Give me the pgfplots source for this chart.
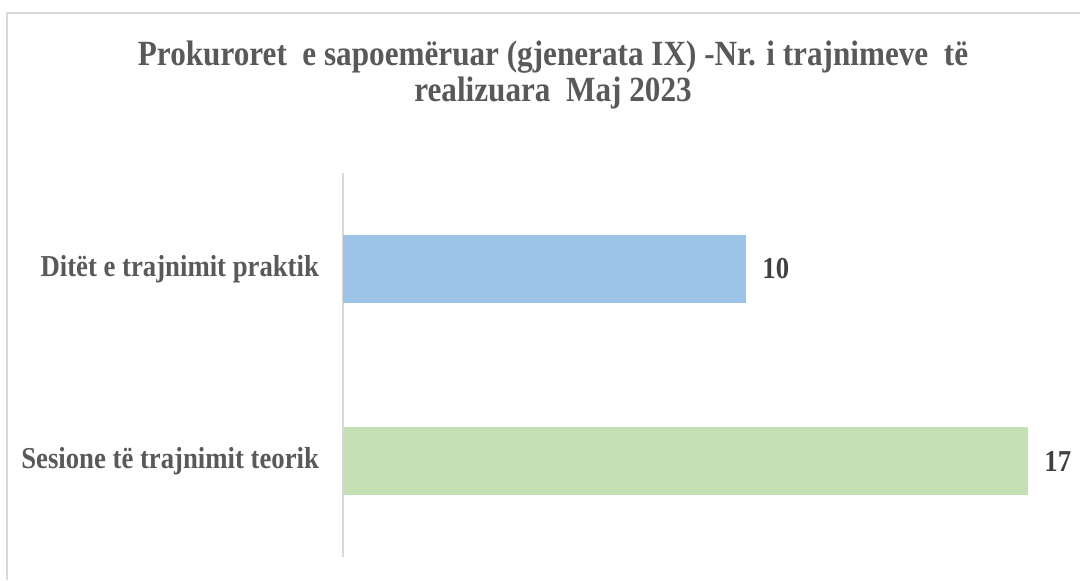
\documentclass[border=0pt]{standalone}
\usepackage{pgfplots}
\pgfplotsset{compat=1.18}
\usepackage{fontspec}
\setmainfont{Liberation Serif}
\newfontfamily\labfont[FakeStretch=0.88]{Liberation Serif}
\definecolor{txtgray}{HTML}{595959}
\definecolor{valgray}{HTML}{404040}
\definecolor{linegray}{HTML}{D9D9D9}
\definecolor{barblue}{HTML}{9DC3E6}
\definecolor{bargreen}{HTML}{C5E0B4}
\begin{document}
\begin{tikzpicture}[x=0.0138889cm,y=0.0138889cm]
\useasboundingbox (0,0) rectangle (1080,580);
\draw[linegray,line width=0.6pt] (7,0) -- (7,567) -- (1080,567);
\node[font=\labfont\bfseries\fontsize{14}{14}\selectfont,text=txtgray,align=center] at (553,505) {Prokuroret\ \ e sapoemëruar (gjenerata IX) -Nr. i trajnimeve\ \ të\\realizuara\ \ Maj 2023};
\begin{axis}[
  at={(4.7639cm,0.3194cm)}, anchor=south west,
  scale only axis,
  width=10.069cm, height=5.333cm,
  xbar, xmin=0, xmax=18,
  ymin=-0.5, ymax=1.5,
  axis x line=none,
  axis y line=left,
  axis line style={-,linegray,line width=0.8pt},
  ytick={0,1},
  yticklabels={Sesione të trajnimit teorik,Ditët e trajnimit praktik},
  major tick length=0pt,
  yticklabel style={font=\labfont\bfseries\fontsize{12}{15}\selectfont,text=txtgray,xshift=-6pt},
  bar width=0.95cm,
  nodes near coords={\pgfmathprintnumber[assume math mode=true]{\pgfplotspointmeta}},
  nodes near coords style={font=\labfont\bfseries\fontsize{12}{15}\selectfont,text=valgray,xshift=3pt},
  clip=false,
]
\addplot[fill=bargreen,draw=none,bar shift=0pt] coordinates {(17,0)};
\addplot[fill=barblue,draw=none,bar shift=0pt] coordinates {(10,1)};
\end{axis}
\end{tikzpicture}
\end{document}
